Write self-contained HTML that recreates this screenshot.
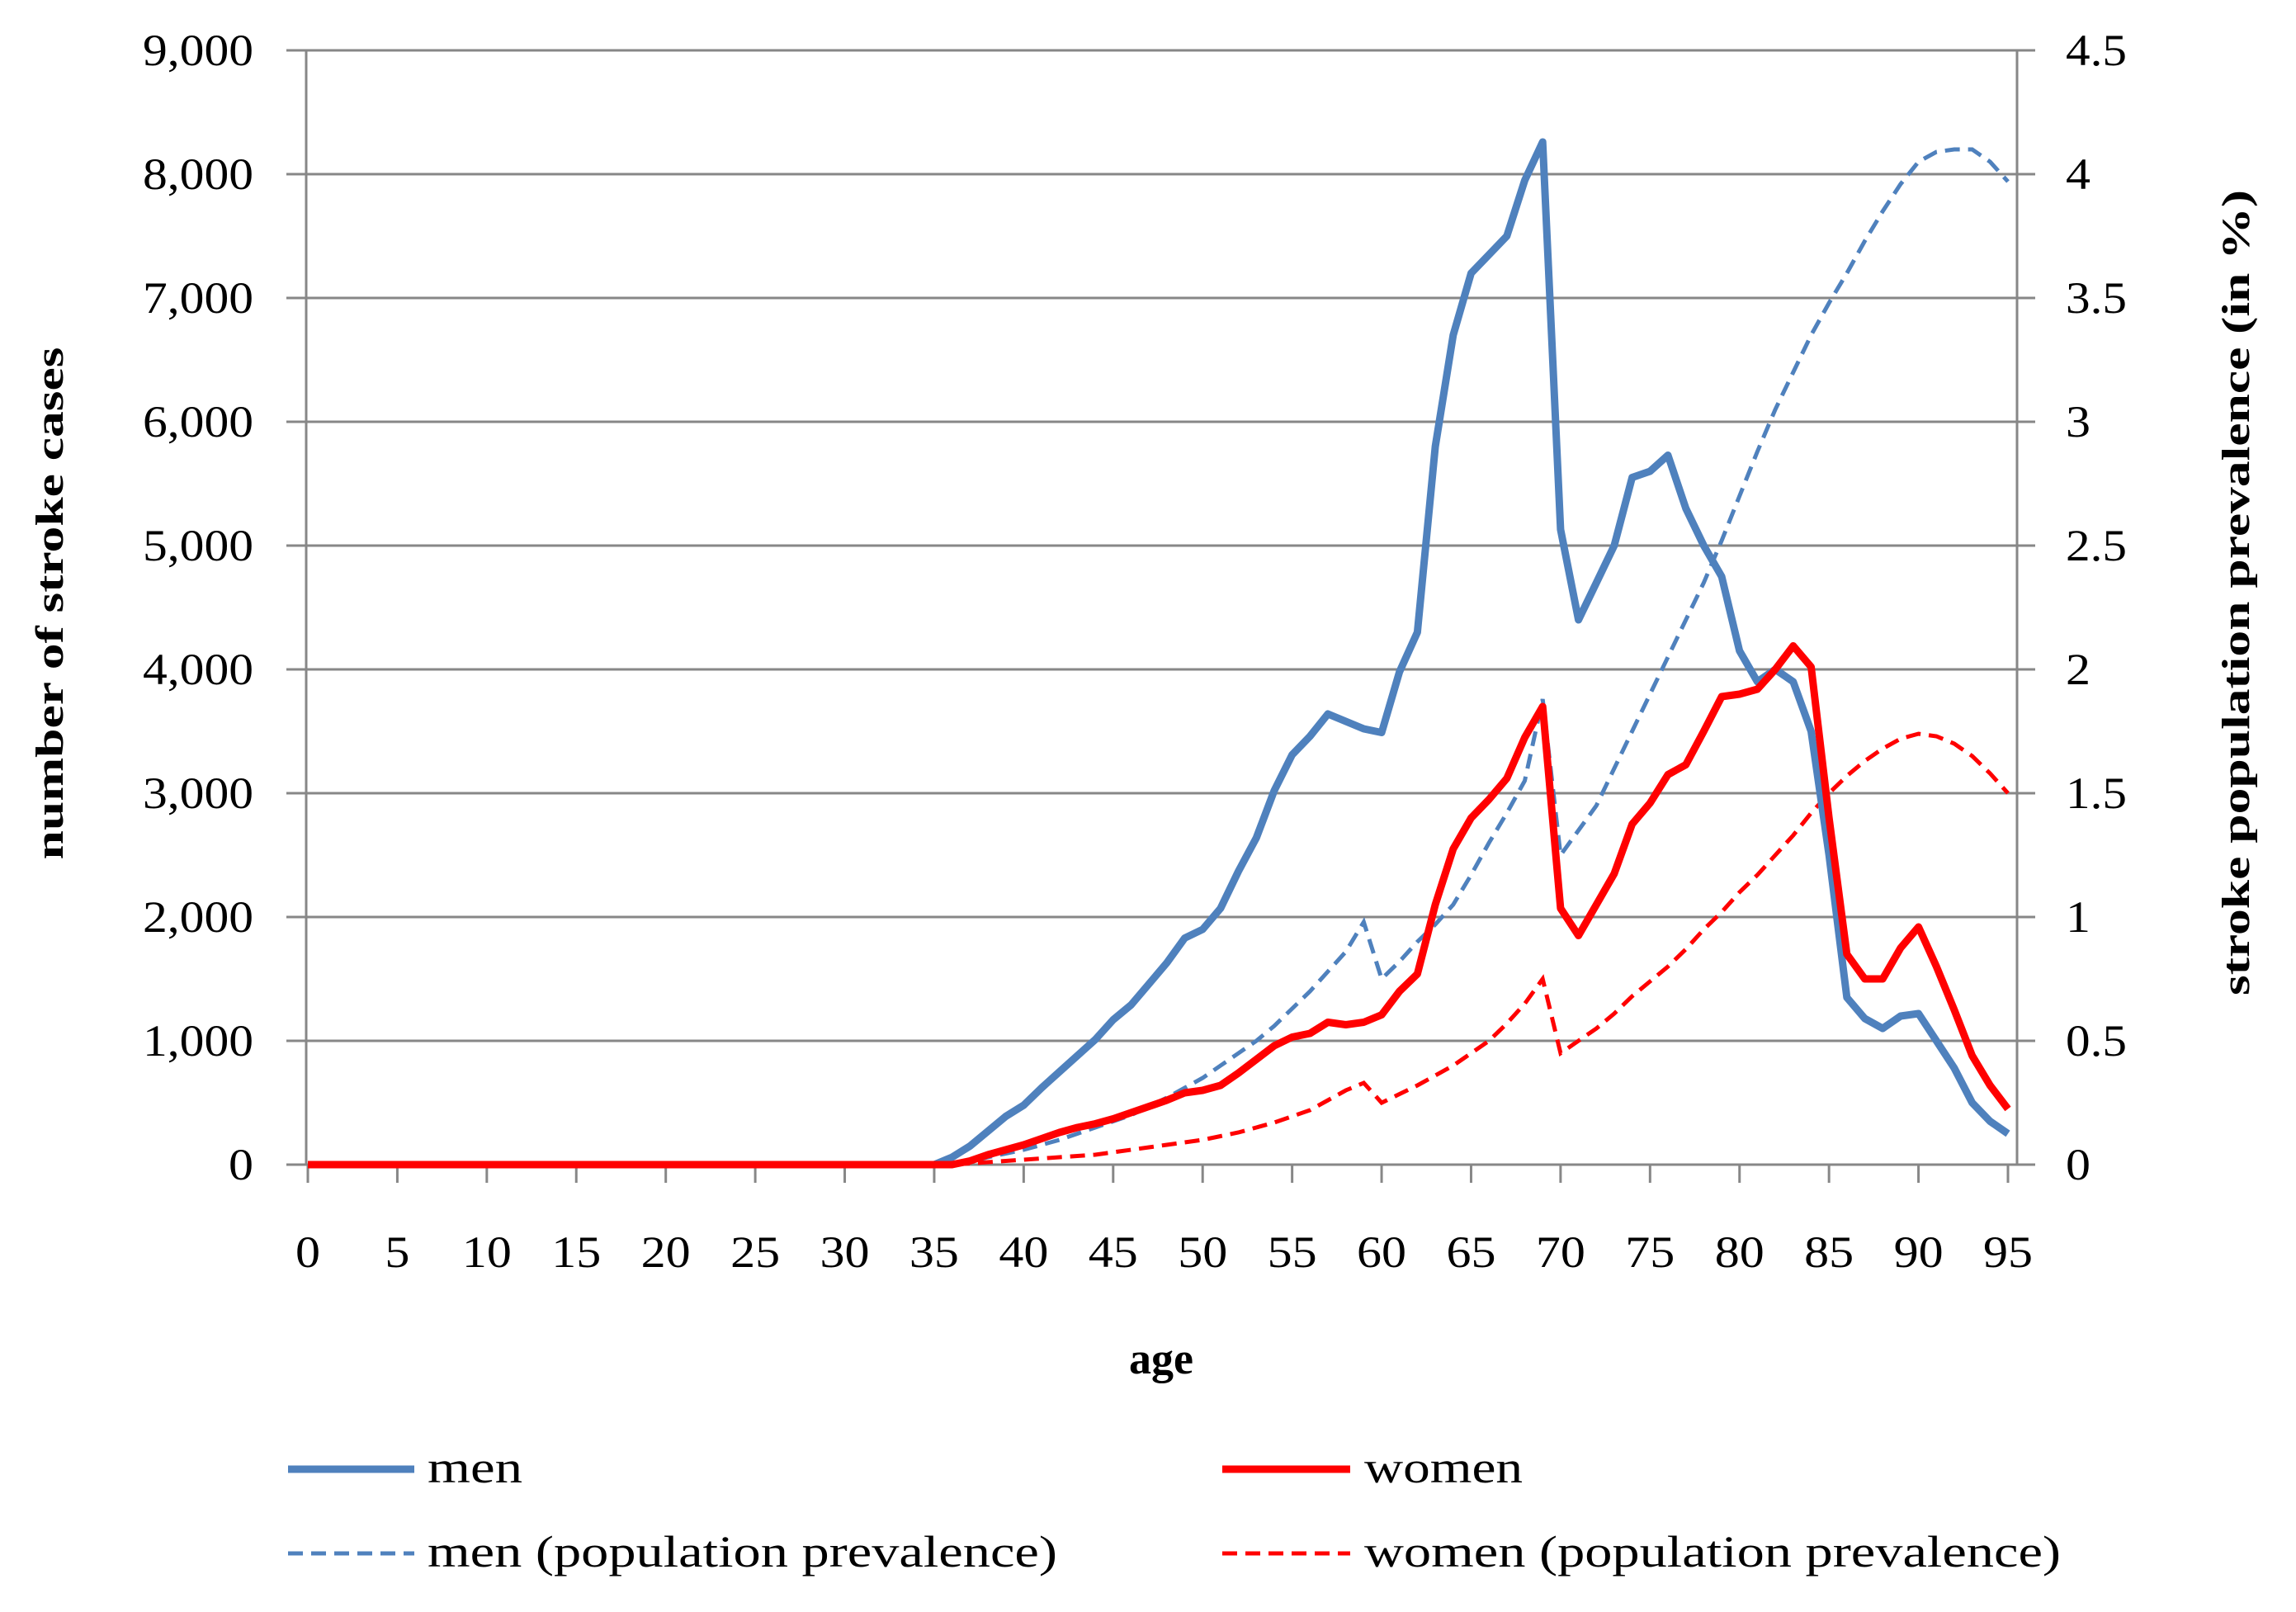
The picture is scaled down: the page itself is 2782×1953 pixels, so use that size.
<!DOCTYPE html>
<html><head><meta charset="utf-8">
<style>
html,body{margin:0;padding:0;background:#fff;}
svg{display:block;}
text{font-family:"Liberation Serif",serif;fill:#000;}
</style></head>
<body>
<svg id="chart" width="2782" height="1953" viewBox="0 0 2782 1953" xmlns="http://www.w3.org/2000/svg">
<g id="grid"></g>
<g id="axes"></g>
<g id="series"></g>
<text transform="translate(76,731) rotate(-90)" text-anchor="middle" font-size="48" font-weight="bold" textLength="621" lengthAdjust="spacingAndGlyphs">number of  stroke cases</text>
<text transform="translate(2725,718) rotate(-90)" text-anchor="middle" font-size="48" font-weight="bold" textLength="976" lengthAdjust="spacingAndGlyphs">stroke population  prevalence (in %)</text>
<text x="1407" y="1664" text-anchor="middle" font-size="54" font-weight="bold">age</text>
<g>
 <g>
  <line x1="349" y1="1780" x2="502" y2="1780" stroke="#4f81bd" stroke-width="9"/>
  <text x="518" y="1796" font-size="54" textLength="115" lengthAdjust="spacingAndGlyphs">men</text>
 </g>
 <g>
  <line x1="1481" y1="1780" x2="1636" y2="1780" stroke="#ff0000" stroke-width="9"/>
  <text x="1653" y="1796" font-size="54" textLength="192" lengthAdjust="spacingAndGlyphs">women</text>
 </g>
 <g>
  <line x1="349" y1="1882" x2="502" y2="1882" stroke="#4f81bd" stroke-width="5" stroke-dasharray="18,10"/>
  <text x="518" y="1898" font-size="54" textLength="763" lengthAdjust="spacingAndGlyphs">men (population  prevalence)</text>
 </g>
 <g>
  <line x1="1481" y1="1882" x2="1636" y2="1882" stroke="#ff0000" stroke-width="5" stroke-dasharray="18,10"/>
  <text x="1653" y="1898" font-size="54" textLength="844" lengthAdjust="spacingAndGlyphs">women (population  prevalence)</text>
 </g>
</g>
</svg>
<script>
// ages 0..95; values listed from age 35 to 95 (earlier ages are 0)
const startAge = 35;
const menCases = [0,60,150,270,390,480,620,750,880,1010,1170,1290,1460,1630,1830,1900,2070,2370,2640,3020,3310,3460,3640,3580,3520,3490,3980,4300,5800,6700,7200,7350,7500,7950,8260,5130,4400,4700,5000,5550,5600,5730,5300,5000,4750,4150,3900,4000,3900,3500,2500,1350,1180,1100,1200,1220,1000,780,500,350,250];
const womenCases = [0,0,30,80,120,160,210,260,300,330,370,420,470,520,580,600,640,740,850,960,1030,1060,1150,1130,1150,1210,1400,1540,2100,2550,2800,2950,3120,3450,3700,2070,1850,2100,2350,2750,2920,3150,3230,3500,3780,3800,3840,4000,4190,4020,2800,1700,1500,1500,1750,1920,1600,1250,880,640,450];
const menPrev = [0,0.005,0.01,0.03,0.045,0.06,0.08,0.1,0.125,0.15,0.175,0.2,0.235,0.27,0.31,0.35,0.4,0.45,0.5,0.56,0.63,0.7,0.78,0.86,0.98,0.75,0.82,0.9,0.97,1.05,1.17,1.3,1.42,1.55,1.88,1.25,1.35,1.45,1.6,1.75,1.9,2.05,2.2,2.35,2.52,2.7,2.88,3.05,3.2,3.35,3.48,3.6,3.73,3.85,3.96,4.05,4.09,4.1,4.1,4.05,3.97];
const womenPrev = [0,0,0.005,0.01,0.015,0.02,0.025,0.03,0.035,0.04,0.05,0.06,0.07,0.08,0.09,0.1,0.115,0.13,0.15,0.17,0.195,0.22,0.26,0.3,0.33,0.25,0.285,0.32,0.36,0.4,0.45,0.5,0.57,0.65,0.75,0.45,0.5,0.55,0.61,0.68,0.74,0.8,0.87,0.95,1.02,1.1,1.17,1.25,1.33,1.42,1.5,1.57,1.63,1.68,1.72,1.74,1.73,1.7,1.65,1.58,1.5];
const yTicks = [0,1000,2000,3000,4000,5000,6000,7000,8000,9000];
const yTickLabels = ["0","1,000","2,000","3,000","4,000","5,000","6,000","7,000","8,000","9,000"];
const y2TickLabels = ["0","0.5","1","1.5","2","2.5","3","3.5","4","4.5"];
const xTickAges = [0,5,10,15,20,25,30,35,40,45,50,55,60,65,70,75,80,85,90,95];

const NS="http://www.w3.org/2000/svg";
const L=371,R=2444,T=61,B=1411;
const X0=373,X95=2433;
function x(a){return X0+a*(X95-X0)/95;}
function y(v){return B-(v/9000)*(B-T);}
function y2(p){return B-(p/4.5)*(B-T);}
function mk(tag,parent){const e=document.createElementNS(NS,tag);parent.appendChild(e);return e;}
function tw(s){let w=0;for(const c of s){w+=(c===','||c==='.')?14:30;}return w;}
const grid=document.getElementById('grid'),axes=document.getElementById('axes'),series=document.getElementById('series');

yTicks.forEach((v,i)=>{
  const g=mk('line',grid);
  
  
  g.setAttribute('x1',347);g.setAttribute('x2',2466);
  g.setAttribute('y1',y(v));g.setAttribute('y2',y(v));
  g.setAttribute('stroke','#878787');g.setAttribute('stroke-width','3');
  const t=mk('text',axes);
  
  
  t.setAttribute('x',307-tw(yTickLabels[i]));t.setAttribute('y',y(v)+18);
  t.setAttribute('font-size','54');
  t.setAttribute('textLength',tw(yTickLabels[i]));t.setAttribute('lengthAdjust','spacingAndGlyphs');
  t.textContent=yTickLabels[i];
  const t2=mk('text',axes);
  
  
  t2.setAttribute('x',2503);t2.setAttribute('y',y(v)+18);
  t2.setAttribute('font-size','54');
  t2.setAttribute('textLength',tw(y2TickLabels[i]));t2.setAttribute('lengthAdjust','spacingAndGlyphs');
  t2.textContent=y2TickLabels[i];
});
[L,R].forEach((p,i)=>{
  const a=mk('line',axes);
  
  
  a.setAttribute('x1',p);a.setAttribute('x2',p);a.setAttribute('y1',T);a.setAttribute('y2',B);
  a.setAttribute('stroke','#878787');a.setAttribute('stroke-width','3');
});
xTickAges.forEach(a=>{
  const tk=mk('line',axes);
  
  
  tk.setAttribute('x1',x(a));tk.setAttribute('x2',x(a));tk.setAttribute('y1',B);tk.setAttribute('y2',B+22);
  tk.setAttribute('stroke','#878787');tk.setAttribute('stroke-width','3');
  const t=mk('text',axes);
  
  
  t.setAttribute('x',x(a)-tw(String(a))/2);t.setAttribute('y',1535);
  t.setAttribute('font-size','54');
  t.setAttribute('textLength',tw(String(a)));t.setAttribute('lengthAdjust','spacingAndGlyphs');
  t.textContent=String(a);
});
function full(arr){const o=[];for(let a=0;a<=95;a++){o.push(a<startAge?0:arr[a-startAge]);}return o;}
function path(arr,fy){return full(arr).map((v,a)=>(a?'L':'M')+x(a).toFixed(1)+','+fy(v).toFixed(1)).join(' ');}
const mp=mk('path',series);


mp.setAttribute('d',path(menPrev,y2));mp.setAttribute('fill','none');mp.setAttribute('stroke','#4f81bd');mp.setAttribute('stroke-width','5');mp.setAttribute('stroke-dasharray','18,10');
const wp=mk('path',series);


wp.setAttribute('d',path(womenPrev,y2));wp.setAttribute('fill','none');wp.setAttribute('stroke','#ff0000');wp.setAttribute('stroke-width','5');wp.setAttribute('stroke-dasharray','18,10');
const mc=mk('path',series);


mc.setAttribute('d',path(menCases,y));mc.setAttribute('fill','none');mc.setAttribute('stroke','#4f81bd');mc.setAttribute('stroke-width','9');mc.setAttribute('stroke-linejoin','round');
const wc=mk('path',series);


wc.setAttribute('d',path(womenCases,y));wc.setAttribute('fill','none');wc.setAttribute('stroke','#ff0000');wc.setAttribute('stroke-width','9');wc.setAttribute('stroke-linejoin','round');
</script>
</body></html>
